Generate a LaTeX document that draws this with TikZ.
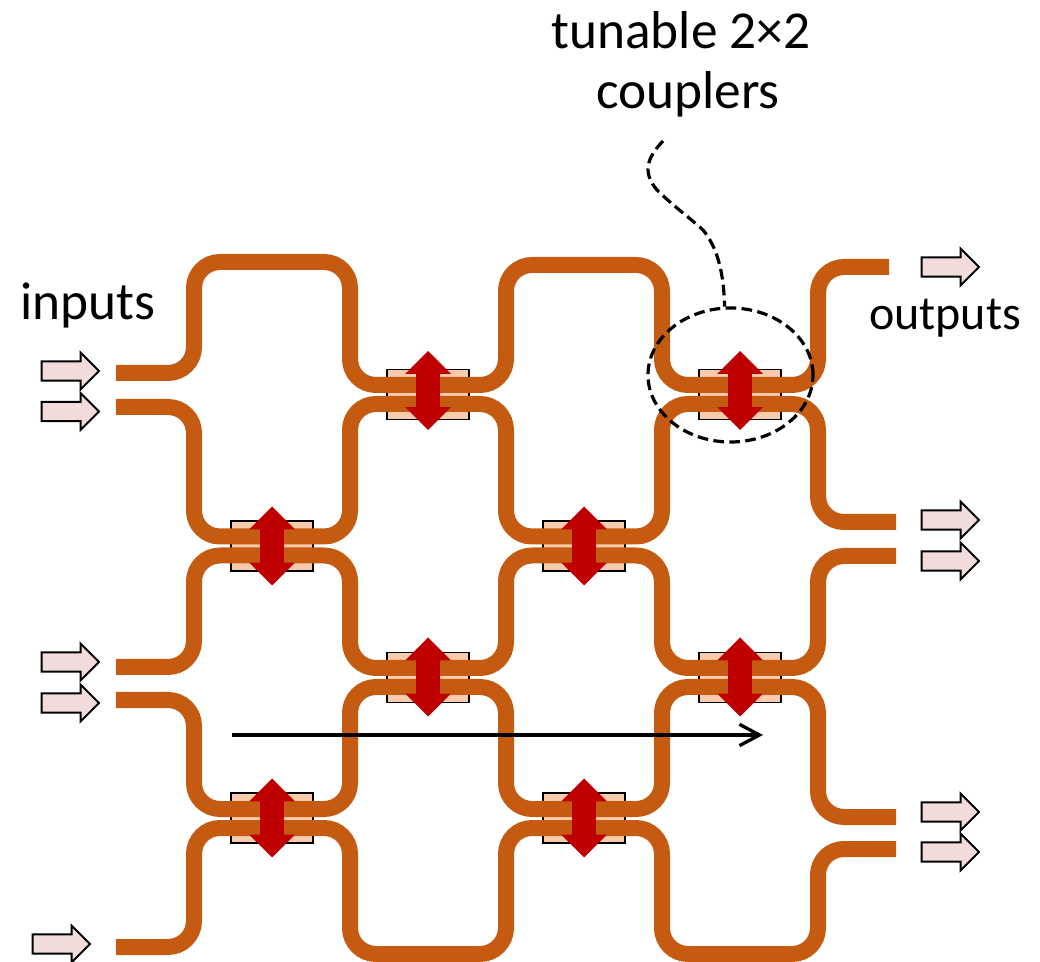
\documentclass[tikz,border=0pt]{standalone}
\usepackage{fontspec}
\setmainfont{Carlito}
\usetikzlibrary{shapes.arrows,shapes.geometric,arrows.meta}
\definecolor{guidecol}{HTML}{C55A11}
\definecolor{boxcol}{HTML}{F8CBAD}
\definecolor{tuncol}{HTML}{C00000}
\definecolor{portcol}{HTML}{F2DCDB}
\tikzset{
    guide/.style={guidecol,line width=12pt,rounded corners=19.5pt},
    couplerbox/.style={draw=black,line width=1.2pt,fill=boxcol,minimum width=61.5pt,minimum height=37.5pt,inner sep=0pt,outer sep=0pt},
    tuner/.style={double arrow,rotate=90,fill=tuncol,minimum height=59.25pt,minimum width=33.75pt,double arrow head extend=8.25pt,inner xsep=0pt,inner ysep=8.625pt,outer sep=0pt},
    port/.style={single arrow,draw=black,line width=1.5pt,fill=portcol,minimum height=43pt,minimum width=26pt,single arrow head extend=6.5pt,inner xsep=0pt,inner ysep=6.5pt,outer sep=0pt,anchor=tip},
    lbl/.style={font=\fontsize{40}{46.5}\selectfont,inner sep=0pt},
    lead/.style={line width=2.4pt,dash pattern=on 8pt off 4pt}
}
\begin{document}
\begin{tikzpicture}[x=0.75pt,y=-0.75pt]
    \useasboundingbox (0,0) rectangle (1040,962);
    % couplers
    \foreach \name/\px/\py in {ca/428/394.5,cb/740/394.5,cc/272/546,cd/584/546,ce/428/677.5,cf/740/677.5,cg/272/818,ch/584/818}
        \node[couplerbox] (\name) at (\px,\py) {};
    % waveguides
    \draw[guide] (116,373) -- (194,373) -- (194,262) -- (350,262) -- (350,385) -- (506,385) -- (506,265) -- (662,265) -- (662,385) -- (818,385) -- (818,267) -- (889,267);
    \draw[guide] (116,407) -- (194,407) -- (194,536.5) -- (350,536.5) -- (350,404) -- (506,404) -- (506,536.5) -- (662,536.5) -- (662,404) -- (818,404) -- (818,522) -- (896,522);
    \draw[guide] (116,667) -- (194,667) -- (194,555.5) -- (350,555.5) -- (350,668) -- (506,668) -- (506,555.5) -- (662,555.5) -- (662,668) -- (818,668) -- (818,556) -- (896,556);
    \draw[guide] (116,700) -- (194,700) -- (194,809) -- (350,809) -- (350,687) -- (506,687) -- (506,809) -- (662,809) -- (662,687) -- (818,687) -- (818,817) -- (896,817);
    \draw[guide] (116,947) -- (194,947) -- (194,828) -- (350,828) -- (350,954) -- (506,954) -- (506,828) -- (662,828) -- (662,954) -- (818,954) -- (818,849) -- (896,849);
    % tuning arrows
    \foreach \name/\px/\py in {ta/428/390.5,tb/740/390.5,tc/272/546,td/584/546,te/428/677,tf/740/677,tg/272/818,th/584/818}
        \node[tuner] (\name) at (\px,\py) {};
    % ports
    \foreach \name/\px/\py in {ina/99/371,inb/99/411.5,inc/99/662,ind/99/703,ine/90/944,outa/979/267,outb/979/520,outc/979/561,outd/979/812,oute/979/852}
        \node[port] (\name) at (\px,\py) {};
    % propagation
    \coordinate (runstart) at (232,735);
    \coordinate (runend) at (763,735);
    \draw[line width=2.5pt,-{Straight Barb[length=15pt,width=16pt]}] (runstart) -- (runend);
    % labels
    \node[lbl] (inputs) at (88,305) {inputs};
    \node[lbl,font=\fontsize{36}{42}\selectfont] (outputs) at (945,318) {outputs};
    \node[lbl] (tunable) at (681,30) {tunable 2×2};
    \node[lbl] (couplers) at (688,94) {couplers};
    % marked coupler
    \node[ellipse,draw=black,lead,minimum width=123.75pt,minimum height=100.5pt,inner sep=0pt] (ring) at (730.5,375) {};
    \coordinate (leadstart) at (663,141);
    \draw[lead] (leadstart) .. controls (650,155) and (640,170) .. (657,190) .. controls (672,205) and (690,218) .. (703,230) .. controls (718,248) and (724,275) .. (ring.95);
\end{tikzpicture}
\end{document}
